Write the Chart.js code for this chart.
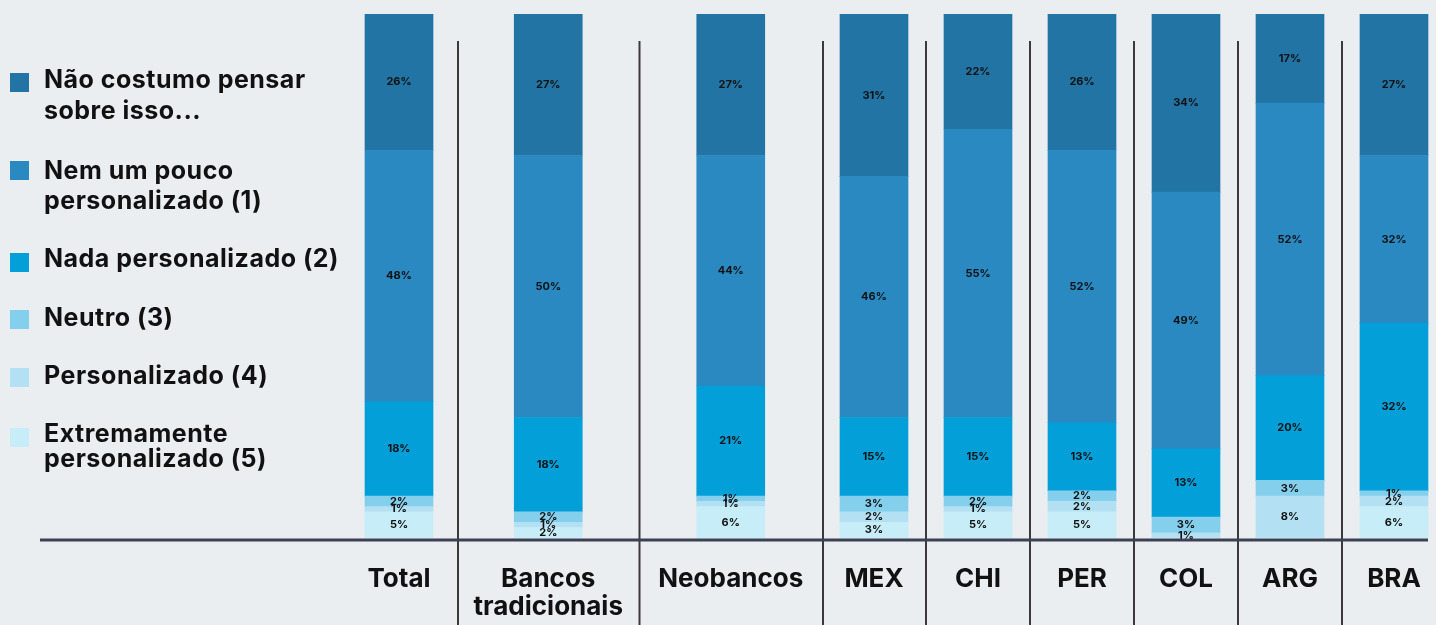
<!DOCTYPE html>
<html lang="pt">
<head>
<meta charset="utf-8">
<script src="https://cdn.jsdelivr.net/npm/chart.js@4"></script>
<style>
  html, body { margin: 0; padding: 0; }
  body {
    width: 1436px; height: 625px; overflow: hidden; position: relative;
    background: #eaeef0; font-family: Inter, "Noto Sans", sans-serif;
  }
  canvas { position: absolute; top: 0; }
  .sq { position: absolute; left: 10px; width: 19px; height: 19px; }
  .lg { position: absolute; left: 44px; font-size: 25px; letter-spacing: 0.5px; font-weight: 700; color: #111; white-space: nowrap; }
</style>
</head>
<body>

<canvas id="chartA" width="457" height="625" style="left:0"></canvas>
<canvas id="chartB" width="365" height="625" style="left:457px"></canvas>
<canvas id="chartC" width="624" height="625" style="left:822px"></canvas>

<div id="legend"></div>

<script>
// data
const categories = ['Total', ['Bancos', 'tradicionais'], 'Neobancos', 'MEX', 'CHI', 'PER', 'COL', 'ARG', 'BRA'];

const naoCostumo    = [26, 27, 27, 31, 22, 26, 34, 17, 27];
const nemUmPouco    = [48, 50, 44, 46, 55, 52, 49, 52, 32];
const nada          = [18, 18, 21, 15, 15, 13, 13, 20, 32];
const neutro        = [2, 2, 1, 3, 2, 2, 3, 3, 1];
const personalizado = [1, 1, 1, 2, 1, 2, 1, 8, 2];
const extremamente  = [5, 2, 6, 3, 5, 5, 0, 0, 6];

const seriesNames = [
  'Não costumo pensar sobre isso...',
  'Nem um pouco personalizado (1)',
  'Nada personalizado (2)',
  'Neutro (3)',
  'Personalizado (4)',
  'Extremamente personalizado (5)'
];
const seriesValues = [naoCostumo, nemUmPouco, nada, neutro, personalizado, extremamente];
const seriesColors = ['#2274a5', '#2a89c1', '#029fd9', '#84cfec', '#b4e0f3', '#c7eef8'];

// legend (html, two lines where the picture wraps)
const legendLines = [
  ['Não costumo pensar', 'sobre isso...'],
  ['Nem um pouco', 'personalizado (1)'],
  ['Nada personalizado (2)'],
  ['Neutro (3)'],
  ['Personalizado (4)'],
  ['Extremamente', 'personalizado (5)']
];
const legendSquareTop = [73, 161, 253, 310, 368, 428];
const legendTextTop = [64, 155, 243, 302, 360, 421];
const legendLineH = [31, 30, 30, 30, 30, 25];

const legend = document.getElementById('legend');
legendLines.forEach((lines, i) => {
  const sq = document.createElement('div');
  sq.className = 'sq';
  sq.style.top = legendSquareTop[i] + 'px';
  sq.style.background = seriesColors[i];
  legend.appendChild(sq);
  const t = document.createElement('div');
  t.className = 'lg';
  t.style.top = legendTextTop[i] + 'px';
  t.style.lineHeight = legendLineH[i] + 'px';
  t.innerHTML = lines.join('<br>');
  legend.appendChild(t);
});

// separators + base line
const framePlugin = {
  id: 'frame',
  afterDraw(chart, args, opts) {
    const {ctx, chartArea, scales} = chart;
    const x = scales.x;
    const n = chart.data.labels.length;
    ctx.save();
    ctx.strokeStyle = '#3a3a3a';
    ctx.lineWidth = 2;
    const edges = [];
    if (opts.leftEdge) edges.push(chartArea.left + 1);
    for (let i = 0; i < n - 1; i++) {
      edges.push((x.getPixelForValue(i) + x.getPixelForValue(i + 1)) / 2);
    }
    edges.forEach(px => {
      ctx.beginPath();
      ctx.moveTo(px, 41);
      ctx.lineTo(px, chart.height);
      ctx.stroke();
    });
    ctx.strokeStyle = '#3b4055';
    ctx.lineWidth = 3;
    const y = chartArea.bottom + 2;
    ctx.beginPath();
    ctx.moveTo(opts.lineFrom || 0, y);
    ctx.lineTo(opts.lineTo || chart.width, y);
    ctx.stroke();
    ctx.restore();
  }
};

// value labels inside segments
const valueLabels = {
  id: 'valueLabels',
  afterDatasetsDraw(chart) {
    const {ctx} = chart;
    ctx.save();
    ctx.font = 'bold 11px Inter, sans-serif';
    ctx.fillStyle = '#111';
    ctx.textAlign = 'center';
    ctx.textBaseline = 'middle';
    chart.data.datasets.forEach((ds, di) => {
      const meta = chart.getDatasetMeta(di);
      meta.data.forEach((el, i) => {
        const v = ds.data[i];
        if (!v) return;
        ctx.fillText(v + '%', el.x, (el.y + el.base) / 2);
      });
    });
    ctx.restore();
  }
};

function makeChart(id, from, to, extra) {
  // stack bottom-up: last series first
  const datasets = [];
  for (let s = seriesValues.length - 1; s >= 0; s--) {
    datasets.push({
      label: seriesNames[s],
      data: seriesValues[s].slice(from, to),
      backgroundColor: seriesColors[s],
      borderWidth: 0,
      barThickness: 68
    });
  }
  return new Chart(document.getElementById(id), {
    type: 'bar',
    data: {labels: categories.slice(from, to), datasets},
    options: {
      responsive: false,
      devicePixelRatio: 1,
      animation: false,
      layout: {padding: {top: 14, left: extra.padLeft || 0, right: 0, bottom: 0}},
      plugins: {
        legend: {display: false},
        tooltip: {enabled: false},
        frame: extra.frame
      },
      scales: {
        x: {
          stacked: true,
          grid: {display: false, drawTicks: false},
          border: {display: false},
          ticks: {
            color: '#111',
            font: {family: 'Inter', size: 26, weight: 'bold', lineHeight: 1.08},
            padding: 27,
            maxRotation: 0,
            autoSkip: false
          },
          afterFit(scale) {
            scale.height = 87;
            // keep the cells as wide as the canvas, labels may overhang
            scale.paddingLeft = 0;
            scale.paddingRight = 0;
          }
        },
        y: {stacked: true, display: false, min: 0, max: 100}
      }
    },
    plugins: [framePlugin, valueLabels]
  });
}

makeChart('chartA', 0, 1, {padLeft: 341, frame: {leftEdge: false, lineFrom: 40}});
makeChart('chartB', 1, 3, {frame: {leftEdge: true}});
makeChart('chartC', 3, 9, {frame: {leftEdge: true, lineTo: 606}});
</script>
</body>
</html>
